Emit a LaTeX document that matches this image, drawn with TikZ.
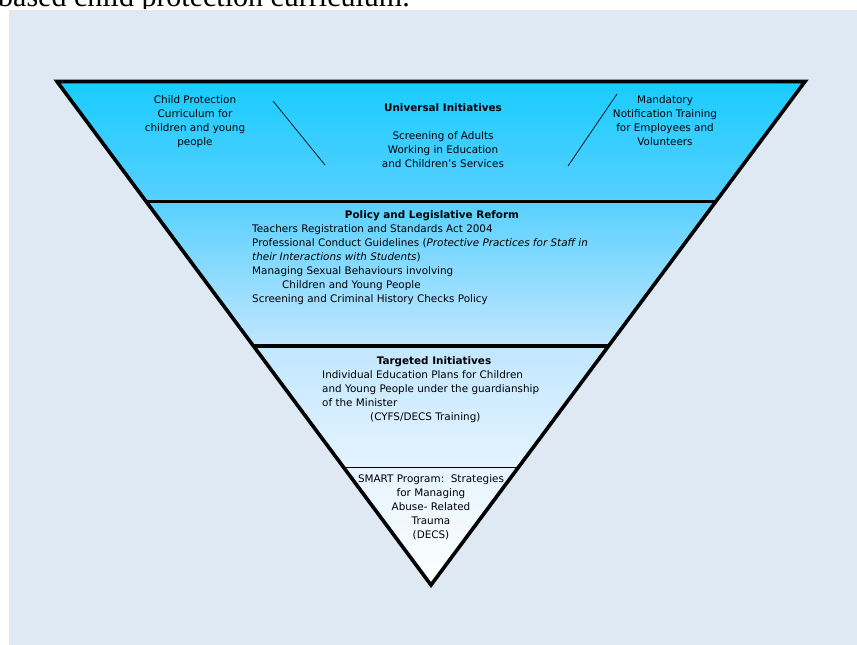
\documentclass[tikz,border=0pt]{standalone}
\usepackage{fontspec}
\setmainfont{DejaVu Sans}
\newfontfamily\pagefont{Liberation Serif}
\usetikzlibrary{calc}

\definecolor{panelblue}{RGB}{223,233,244}
\definecolor{funnelA}{RGB}{25,204,255}
\definecolor{funnelB}{RGB}{88,208,255}
\definecolor{funnelC}{RGB}{192,230,255}
\definecolor{funnelD}{RGB}{228,243,255}
\pgfdeclareverticalshading{funnelshade}{100bp}{color(0bp)=(white); color(25bp)=(white); color(37bp)=(funnelD); color(49bp)=(funnelC); color(63bp)=(funnelB); color(75bp)=(funnelA); color(100bp)=(funnelA)}

\tikzset{
  band text/.style={font=\fontsize{10.4}{14}\selectfont, inner sep=0pt, anchor=north, align=center},
  band list/.style={font=\fontsize{10.4}{14}\selectfont, inner sep=0pt, anchor=north west, align=left},
  rim/.style={line width=3.6pt, line join=miter},
}

\begin{document}
\begin{tikzpicture}[x=1pt,y=-1pt]
    \useasboundingbox (0,0) rectangle (857,645);

    % Page text cut off above the slide
    \node[font=\pagefont\fontsize{30}{30}\selectfont, anchor=base west, inner sep=0pt] (caption) at (-2,6.5) {based child protection curriculum.};
    \fill[white] (0,9) rectangle (857,645);
    \fill[panelblue] (9,10) rectangle (857,645);

    % Funnel
    \coordinate (tl) at (57,81.5);
    \coordinate (tr) at (805,81.5);
    \coordinate (tip) at (431,585);
    \shade[shading=funnelshade] (tl) -- (tr) -- (tip) -- cycle;

    % Band dividers
    \draw[rim] ($(tl)!0.238!(tip)$) -- ($(tr)!0.238!(tip)$);
    \draw[rim] ($(tl)!0.525!(tip)$) -- ($(tr)!0.525!(tip)$);
    \draw[line width=1pt] ($(tl)!0.766!(tip)$) -- ($(tr)!0.766!(tip)$);
    \draw[rim] (tl) -- (tr) -- (tip) -- cycle;

    % Universal initiatives
    \node[band text] (curriculum) at (195,95) {Child Protection\\Curriculum for\\children and young\\people};
    \node[band text] (universal) at (443,103) {\textbf{Universal Initiatives}\\[14pt]Screening of Adults\\Working in Education\\and Children’s Services};
    \node[band text] (notification) at (665,95) {Mandatory\\Notification Training\\for Employees and\\Volunteers};
    \draw[line width=0.7pt] (273,101) -- (325,165);
    \draw[line width=0.7pt] (617,94) -- (568,166);

    % Policy and legislative reform
    \node[band text] (policy) at (432,210) {\textbf{Policy and Legislative Reform}};
    \node[band list] (policylist) at (252,224) {Teachers Registration and Standards Act 2004\\Professional Conduct Guidelines (\textit{Protective Practices for Staff in}\\\textit{their Interactions with Students})\\Managing Sexual Behaviours involving\\\hspace*{30pt}Children and Young People\\Screening and Criminal History Checks Policy};

    % Targeted initiatives
    \node[band text] (targeted) at (434,356) {\textbf{Targeted Initiatives}};
    \node[band list] (targetedlist) at (322,370) {Individual Education Plans for Children\\and Young People under the guardianship\\of the Minister\\\hspace*{48pt}(CYFS/DECS Training)};

    % SMART program
    \node[band text] (smart) at (431,474) {SMART Program:\ \ Strategies\\for Managing\\Abuse- Related\\Trauma\\(DECS)};
\end{tikzpicture}
\end{document}
